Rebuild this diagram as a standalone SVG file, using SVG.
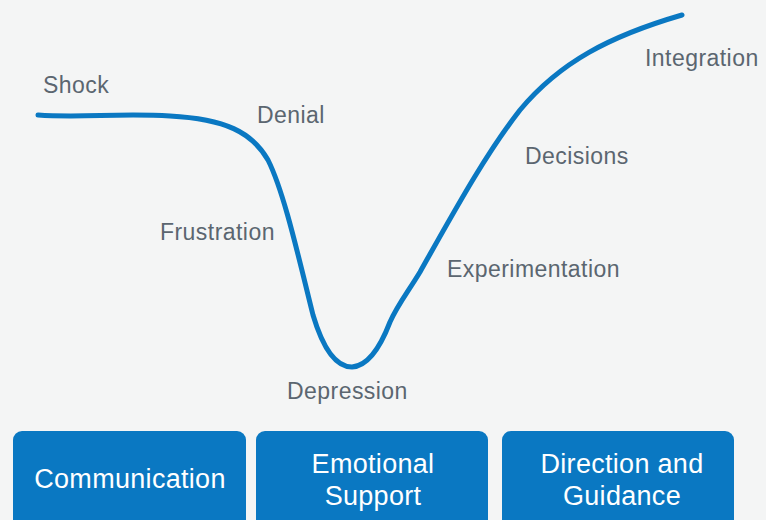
<svg xmlns="http://www.w3.org/2000/svg" width="766" height="520" viewBox="0 0 766 520">
  <style>
    .stage { font-family: "Liberation Sans", Arial, sans-serif; font-size: 23px; fill: #5b6670; letter-spacing: 0.45px; }
    .box { fill: #0a78c2; }
    .boxlabel { font-family: "Liberation Sans", Arial, sans-serif; font-size: 27px; fill: #ffffff; text-anchor: middle; letter-spacing: 0.3px; }
    .curve { fill: none; stroke: #0a78c2; stroke-width: 5; stroke-linecap: round; stroke-linejoin: round; }
  </style>
  <rect width="766" height="520" fill="#f4f5f5"/>

  <!-- change curve -->
  <g id="connectors">
    <path class="curve" d="M38,115 C80,118 120,113 170,116 C225,119 252,132 268,160 C284,192 298,255 313,315 C324,352 338,367 352,367 C368,366 380,348 390,322 C398,304 408,292 420,272 C455,210 485,155 520,110 C560,62 610,36 682,15"/>
  </g>

  <g id="shock"><text class="stage" x="43" y="93">Shock</text></g>
  <g id="denial"><text class="stage" x="257" y="123">Denial</text></g>
  <g id="frustration"><text class="stage" x="160" y="240">Frustration</text></g>
  <g id="depression"><text class="stage" x="287" y="399">Depression</text></g>
  <g id="experimentation"><text class="stage" x="447" y="277">Experimentation</text></g>
  <g id="decisions"><text class="stage" x="525" y="164">Decisions</text></g>
  <g id="integration"><text class="stage" x="645" y="66">Integration</text></g>

  <g id="communication">
    <rect class="box" x="13" y="431" width="233" height="100" rx="9"/>
    <text class="boxlabel" x="130" y="488">Communication</text>
  </g>
  <g id="emotional-support">
    <rect class="box" x="256" y="431" width="232" height="100" rx="9"/>
    <text class="boxlabel" x="373" y="473">Emotional</text>
    <text class="boxlabel" x="373" y="505">Support</text>
  </g>
  <g id="direction-guidance">
    <rect class="box" x="502" y="431" width="232" height="100" rx="9"/>
    <text class="boxlabel" x="622" y="473">Direction and</text>
    <text class="boxlabel" x="622" y="505">Guidance</text>
  </g>
</svg>
